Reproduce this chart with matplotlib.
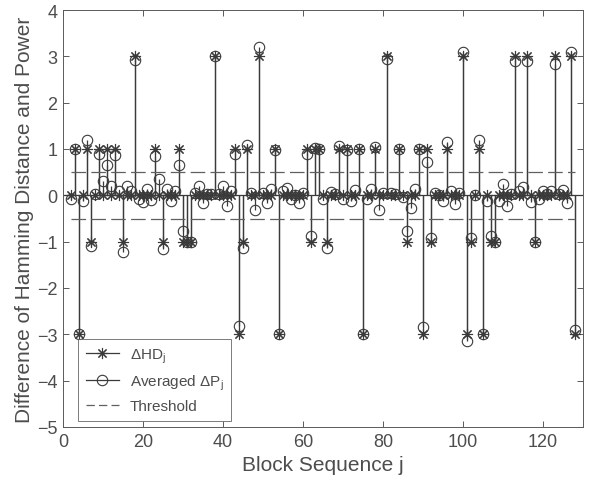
import matplotlib
matplotlib.use("Agg")
import matplotlib.pyplot as plt
import numpy as np
from matplotlib.lines import Line2D

plt.rcParams['font.family'] = ['Liberation Sans', 'DejaVu Sans']
plt.rcParams['mathtext.fontset'] = 'custom'
plt.rcParams['mathtext.rm'] = 'Liberation Sans'
plt.rcParams['mathtext.it'] = 'Liberation Sans'
plt.rcParams['lines.scale_dashes'] = False

blocks = list(range(2, 129))
delta_hd = [0, 1, -3, 0, 1, -1, 0, 1, 0, 1, 0, 1, 0, -1, 0, 0, 3, 0, 0, 0,
            0, 1, 0, -1, 0, 0, 0, 1, -1, -1, -1, 0, 0, 0, 0, 0, 3, 0, 0, 0,
            0, 1, -3, -1, 1, 0, 0, 3, 0, 0, 0, 1, -3, 0, 0, 0, 0, 0, 0, 1,
            -1, 1, 1, 0, -1, 0, 0, 1, 0, 1, 0, 0, 1, -3, 0, 0, 1, 0, 0, 3,
            0, 0, 1, 0, -1, 0, 0, 1, -3, 1, -1, 0, 0, 0, 1, 0, 0, 0, 3, -3,
            -1, 0, 1, -3, 0, -1, -1, 0, 0, 0, 0, 3, 0, 0, 3, 0, -1, 0, 0, 0,
            0, 3, 0, 0, 0, 3, -3]
avg_dp = [-0.08, 1.0, -3.0, -0.13, 1.2, -1.1, 0.03, 0.9, 0.32, 0.65, 0.2, 0.87, 0.1, -1.23, 0.2, 0.1, 2.93, -0.08, -0.14, 0.14,
          -0.1, 0.84, 0.35, -1.16, 0.14, -0.13, 0.1, 0.65, -0.78, -1.0, -1.0, 0.06, 0.2, -0.17, 0.03, 0.02, 3.0, 0.02, 0.2, -0.22,
          0.1, 0.9, -2.81, -1.13, 1.09, 0.06, -0.32, 3.21, 0.06, -0.17, 0.14, 0.97, -3.0, 0.1, 0.15, -0.08, 0.0, -0.17, 0.06, 0.9,
          -0.87, 1.03, 1.0, -0.07, -1.13, 0.07, 0.03, 1.07, -0.07, 0.97, -0.12, 0.12, 1.0, -3.0, -0.07, 0.14, 1.05, -0.31, 0.06, 2.94,
          0.06, 0.03, 1.0, -0.04, -0.78, -0.28, 0.14, 1.0, -2.85, 0.73, -0.92, 0.06, 0.0, -0.12, 1.16, 0.1, -0.19, 0.06, 3.09, -3.14,
          -0.92, 0.0, 1.2, -3.0, -0.12, -0.87, -1.0, -0.13, 0.25, -0.22, 0.03, 2.89, 0.1, 0.17, 2.91, -0.15, -1.0, -0.07, 0.1, 0.03,
          0.1, 2.83, 0.02, 0.12, -0.17, 3.09, -2.91]
threshold = 0.5
xticks = [0, 20, 40, 60, 80, 100, 120]
yticks = [-5, -4, -3, -2, -1, 0, 1, 2, 3, 4]

line_c = '#3a3a3a'
axis_c = '#5a5a5a'
text_c = '#4d4d4d'

fig = plt.figure(figsize=(5.89, 4.89), dpi=100)
ax = fig.add_axes([63/589, 1-428/489, 520/589, 417/489])

ast = (8, 2, 0)
s1 = ax.stem(blocks, delta_hd, linefmt='-', markerfmt='o', basefmt=' ')
s1.stemlines.set_color(line_c)
s1.stemlines.set_linewidth(0.9)
s1.markerline.set_marker(ast)
s1.markerline.set_markersize(8)
s1.markerline.set_color(line_c)
s1.markerline.set_markeredgewidth(0.8)

s2 = ax.stem(blocks, avg_dp, linefmt='-', markerfmt='o', basefmt=' ')
s2.stemlines.set_color(line_c)
s2.stemlines.set_linewidth(0.9)
s2.markerline.set_markerfacecolor('none')
s2.markerline.set_markeredgecolor(line_c)
s2.markerline.set_markersize(7.5)
s2.markerline.set_markeredgewidth(0.8)

ax.axhline(0, color=line_c, lw=0.9)
ax.plot([blocks[0], blocks[-1]], [threshold, threshold], color='#606060', lw=0.9,
        linestyle=(0, (10.5, 3.8)))
ax.plot([blocks[0], blocks[-1]], [-threshold, -threshold], color='#606060', lw=0.9,
        linestyle=(0, (10.5, 3.8)))

ax.set_xlim(0, 130)
ax.set_ylim(-5, 4)
ax.set_xticks(xticks)
ax.set_yticks(yticks)
ax.tick_params(direction='in', top=True, right=True, length=4, width=0.7,
               colors=axis_c, labelcolor=text_c, labelsize=13, pad=4)
for sp in ax.spines.values():
    sp.set_color(axis_c)
    sp.set_linewidth(0.7)

ax.set_xlabel('Block Sequence j', fontsize=15, color=text_c, labelpad=4)
ax.set_ylabel('Difference of Hamming Distance and Power', fontsize=15, color=text_c, labelpad=2)

h1 = Line2D([], [], color=line_c, lw=0.9, marker=ast, markersize=8, markevery=[1], markeredgewidth=0.8)
h2 = Line2D([], [], color=line_c, lw=0.9, marker='o', markerfacecolor='none', markersize=7.5, markevery=[1], markeredgewidth=0.8)
h3 = Line2D([], [], color='#606060', lw=0.9, linestyle=(0, (6, 3)))
leg = ax.legend([h1, h2, h3], [r'$\Delta$HD$_\mathregular{j}$', r'Averaged $\Delta$P$_\mathregular{j}$', 'Threshold'],
                loc='lower left', bbox_to_anchor=(15/520, 6/417), borderaxespad=0, fontsize=11, frameon=True,
                fancybox=False, edgecolor=axis_c, handlelength=2.2, borderpad=0.5, labelspacing=0.5,
                handletextpad=0.7)
leg.get_frame().set_linewidth(0.7)
for t in leg.get_texts():
    t.set_color(text_c)

fig.savefig('out.png', dpi=100)
